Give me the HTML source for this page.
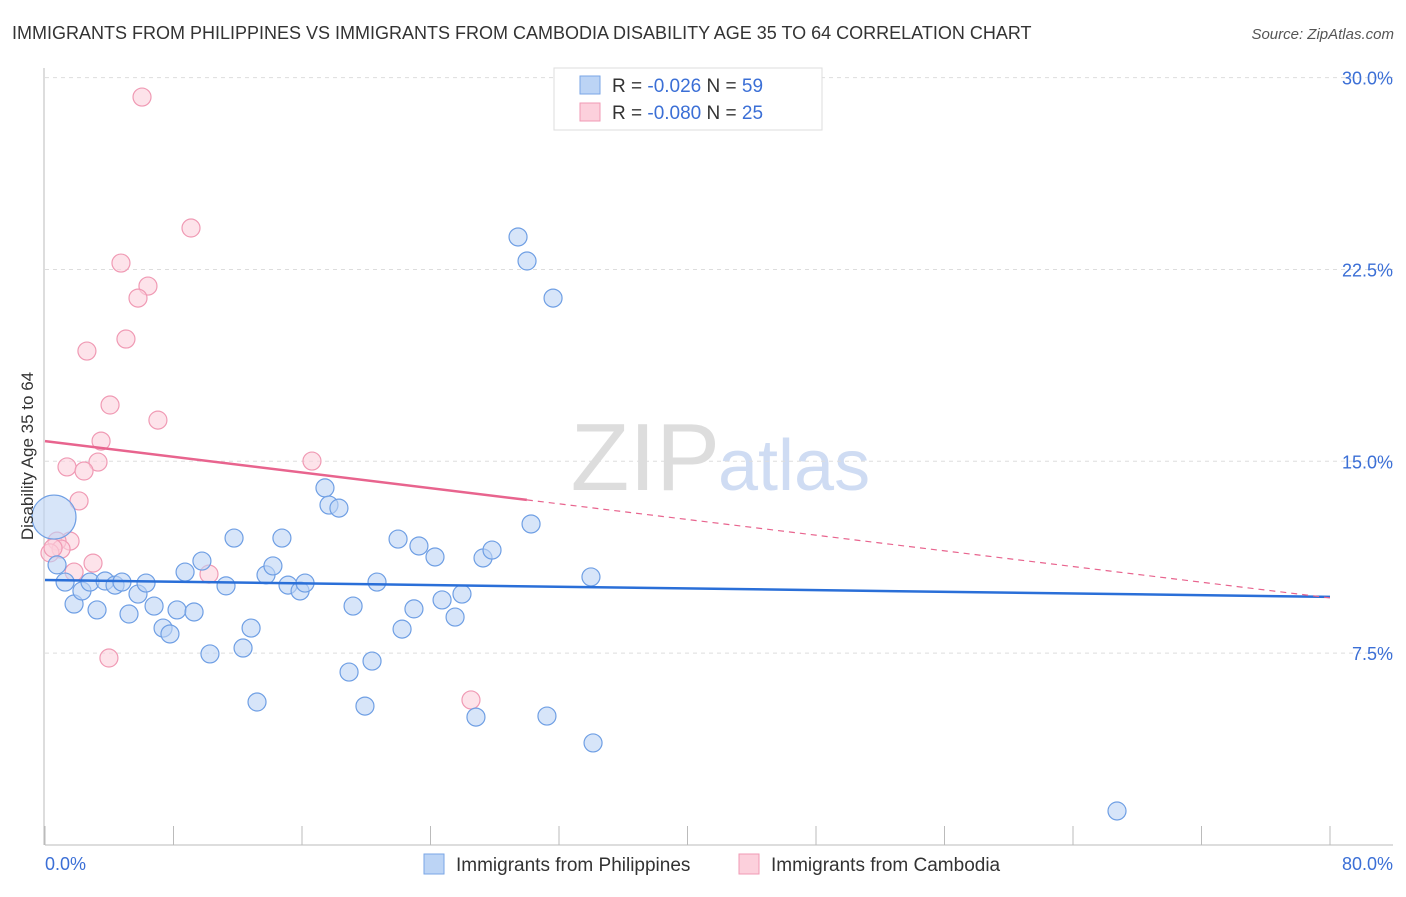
<!DOCTYPE html>
<html><head><meta charset="utf-8"><style>
body{margin:0;background:#fff;font-family:"Liberation Sans",sans-serif;}
svg text{font-family:"Liberation Sans",sans-serif;}
</style></head><body>
<svg id="c" width="1406" height="892">
<text x="12" y="39" font-size="18" fill="#333">IMMIGRANTS FROM PHILIPPINES VS IMMIGRANTS FROM CAMBODIA DISABILITY AGE 35 TO 64 CORRELATION CHART</text>
<text x="1394" y="39" font-size="15" font-style="italic" fill="#555" text-anchor="end">Source: ZipAtlas.com</text>
<text x="720" y="490" font-size="96" font-family="Liberation Serif" fill="#ddd" text-anchor="end">ZIP</text>
<text x="718" y="490" font-size="72" fill="#cfdcf3">atlas</text>
<g id="grid"></g><g id="axes"></g><g id="pts"></g><g id="lines"></g>
<text transform="translate(33,456) rotate(-90)" font-size="17" fill="#333" text-anchor="middle">Disability Age 35 to 64</text>
<text x="45" y="870" font-size="18" fill="#3b6fd6">0.0%</text>
<text x="1393" y="870" font-size="18" fill="#3b6fd6" text-anchor="end">80.0%</text>
<g>
<rect x="554" y="68" width="268" height="62" fill="#fff" stroke="#ddd"/>
<rect x="580" y="76" width="20" height="18" fill="#bcd4f5" stroke="#7aa6e6"/>
<text x="612" y="92" font-size="19" fill="#333">R = <tspan fill="#3b6fd6">-0.026</tspan>   N = <tspan fill="#3b6fd6">59</tspan></text>
<rect x="580" y="103" width="20" height="18" fill="#fcd0dc" stroke="#f09ab4"/>
<text x="612" y="119" font-size="19" fill="#333">R = <tspan fill="#3b6fd6">-0.080</tspan>   N = <tspan fill="#3b6fd6">25</tspan></text>
</g>
<g>
<rect x="424" y="854" width="20" height="20" fill="#bcd4f5" stroke="#7aa6e6"/>
<text x="456" y="871" font-size="19" fill="#333">Immigrants from Philippines</text>
<rect x="739" y="854" width="20" height="20" fill="#fcd0dc" stroke="#f09ab4"/>
<text x="771" y="871" font-size="19" fill="#333">Immigrants from Cambodia</text>
</g>
</svg>
<script>
const yTicks=[7.5,15,22.5,30];
const yTickLabels=["7.5%","15.0%","22.5%","30.0%"];
const xTicks=[0,8,16,24,32,40,48,56,64,72,80];
const blueX=[0.56,0.75,1.25,1.81,2.30,2.80,3.24,3.74,4.36,4.79,5.23,5.79,6.29,6.79,7.35,7.78,8.22,8.72,9.28,9.77,10.27,11.27,11.77,12.33,12.83,13.20,13.76,14.19,14.75,15.13,15.88,16.19,17.43,17.68,18.30,18.93,19.18,19.92,20.36,20.67,21.98,22.23,22.97,23.28,24.28,24.72,25.53,25.96,26.83,27.27,27.83,29.45,30.01,30.26,31.25,31.63,33.99,34.12,66.74];
const blueY=[12.82,10.95,10.28,9.42,9.93,10.28,9.19,10.32,10.16,10.28,9.03,9.81,10.24,9.34,8.48,8.25,9.19,10.67,9.11,11.10,7.47,10.13,12.00,7.70,8.48,5.59,10.56,10.91,12.00,10.16,9.93,10.24,13.96,13.29,13.17,6.76,9.34,5.43,7.19,10.28,11.96,8.44,9.23,11.69,11.26,9.58,8.91,9.81,5.00,11.22,11.53,23.77,22.83,12.55,5.04,21.38,10.48,3.99,1.33];
const pinkX=[6.04,9.09,4.73,6.41,5.79,5.04,2.61,4.05,7.03,3.49,3.30,1.37,2.43,16.62,2.12,1.56,0.75,1.00,0.31,2.99,1.81,10.21,3.98,26.52,0.50];
const pinkY=[29.24,24.12,22.75,21.85,21.38,19.78,19.31,17.20,16.61,15.79,14.97,14.78,14.62,15.01,13.45,11.88,11.88,11.57,11.42,11.02,10.67,10.59,7.31,5.67,11.61];
const blueTrend=[10.36,9.70];
const pinkTrend=[15.79,9.66];
const pinkSolidEnd=30;
const NS="http://www.w3.org/2000/svg";
const X=v=>45+v*(1285/80), Y=v=>845-v*25.58;
function mk(t,a,p){const e=document.createElementNS(NS,t);for(const k in a)e.setAttribute(k,a[k]);p.appendChild(e);return e;}
const grid=document.getElementById('grid'),axes=document.getElementById('axes'),pts=document.getElementById('pts'),lines=document.getElementById('lines');
yTicks.forEach((t,i)=>{
 const g=mk('line',{x1:45,x2:1393,y1:Y(t),y2:Y(t),stroke:'#ddd','stroke-dasharray':'4,4'},grid);
 
 
 const tx=mk('text',{x:1393,y:Y(t)+7,'font-size':18,fill:'#3b6fd6','text-anchor':'end'},grid);
 tx.textContent=yTickLabels[i];
 
 
});
const xa=mk('line',{x1:45,x2:1393,y1:845,y2:845,stroke:'#bbb'},axes);


const ya=mk('line',{x1:44,x2:44,y1:68,y2:845,stroke:'#bbb'},axes);


xTicks.forEach(t=>{
 const l=mk('line',{x1:X(t),x2:X(t),y1:826,y2:845,stroke:'#bbb'},axes);
 
 
});
function dots(xs,ys,fill,stroke,name){
 xs.forEach((x,i)=>{
  const r=(name==='philippines-point'&&i===0)?22:9;
  const c=mk('circle',{cx:X(x),cy:Y(ys[i]),r:r,fill:fill,'fill-opacity':0.6,stroke:stroke,'stroke-width':1.2},pts);
  
  
 });
}
dots(pinkX,pinkY,'#fcd0dc','#f09ab4','cambodia-point');
dots(blueX,blueY,'#bcd4f5','#6f9fe4','philippines-point');
const bl=mk('line',{x1:X(0),y1:Y(blueTrend[0]),x2:X(80),y2:Y(blueTrend[1]),stroke:'#2a6fd8','stroke-width':2.5},lines);


const pe=pinkTrend[0]+(pinkTrend[1]-pinkTrend[0])*pinkSolidEnd/80;
const pl=mk('line',{x1:X(0),y1:Y(pinkTrend[0]),x2:X(pinkSolidEnd),y2:Y(pe),stroke:'#e8648e','stroke-width':2.5},lines);


const pd=mk('line',{x1:X(pinkSolidEnd),y1:Y(pe),x2:X(80),y2:Y(pinkTrend[1]),stroke:'#e8648e','stroke-width':1.2,'stroke-dasharray':'6,5'},lines);


</script>
</body></html>
